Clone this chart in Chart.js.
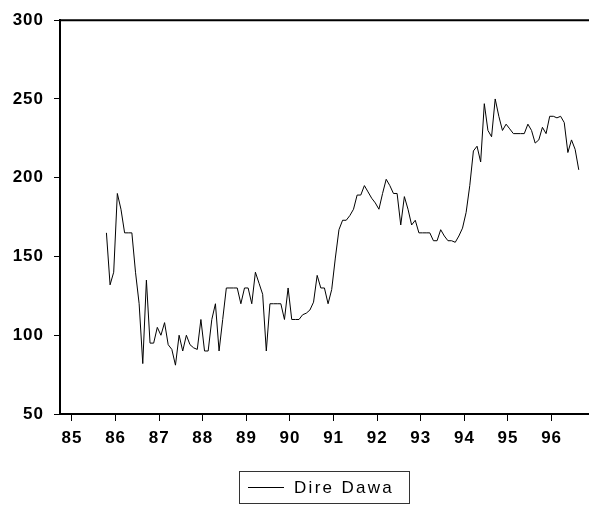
<!DOCTYPE html>
<html>
<head>
<meta charset="utf-8">
<script src="https://cdn.jsdelivr.net/npm/chart.js@4.4.1/dist/chart.umd.min.js"></script>
<style>
  html, body { margin: 0; padding: 0; background: #fff; }
  #wrap { width: 589px; height: 510px; position: relative; }
</style>
</head>
<body>
<div id="wrap"><canvas id="chart"></canvas></div>
<script>
// Monthly series, first observation late 1985
const seriesName = 'Dire Dawa';
const startYear = 85.79;
const direDawa = [
  165, 132, 140, 190, 180, 165, 165, 165, 140, 120,
  82, 135, 95, 95, 105, 100, 108, 94, 91, 81,
  100, 90, 100, 94, 92, 91, 110, 90, 90, 110,
  120, 90, 110, 130, 130, 130, 130, 120, 130, 130,
  120, 140, 133, 126, 90, 120, 120, 120, 120, 110,
  130, 110, 110, 110, 113, 114, 116, 121, 138, 130,
  130, 120, 129, 149, 167, 173, 173, 176, 180, 189,
  189, 195, 191, 187, 184, 180, 190, 199, 195, 190,
  190, 170, 188, 180, 170, 173, 165, 165, 165, 165,
  160, 160, 167, 163, 160, 160, 159, 163, 168, 178,
  195, 217, 220, 210, 247, 230, 226, 250, 239, 230,
  234, 231, 228, 228, 228, 228, 234, 230, 222, 224,
  232, 228, 239, 239, 238, 239, 235, 216, 224, 218,
  205
];
const yearTicks = [85, 86, 87, 88, 89, 90, 91, 92, 93, 94, 95, 96];
const valueTicks = [50, 100, 150, 200, 250, 300];

const points = direDawa.map((v, i) => ({ x: startYear + i / 12, y: v }));

const tickFont = { family: "'Liberation Sans', Arial, sans-serif", size: 17, weight: 'bold' };

// top frame line + boxed legend under the plot
const framePlugin = {
  id: 'frame',
  beforeDraw(chart) {
    chart.ctx.letterSpacing = '1px';
  },
  afterDraw(chart) {
    const ctx = chart.ctx;
    const a = chart.chartArea;
    ctx.save();
    ctx.strokeStyle = '#000';
    ctx.lineWidth = 2;
    ctx.beginPath();
    ctx.moveTo(a.left - 1, a.top);
    ctx.lineTo(a.right, a.top);
    ctx.stroke();

    // legend
    ctx.lineWidth = 1;
    ctx.strokeStyle = '#333';
    ctx.strokeRect(239.5, 471.5, 170, 32);
    ctx.strokeStyle = '#000';
    ctx.beginPath();
    ctx.moveTo(248, 487.5);
    ctx.lineTo(284, 487.5);
    ctx.stroke();
    ctx.fillStyle = '#000';
    ctx.font = "17px 'Liberation Sans', Arial, sans-serif";
    ctx.letterSpacing = '2.3px';
    ctx.textBaseline = 'middle';
    ctx.textAlign = 'left';
    ctx.fillText(seriesName, 294, 488);
    ctx.restore();
  }
};

new Chart(document.getElementById('chart'), {
  type: 'line',
  data: {
    datasets: [{
      label: seriesName,
      data: points,
      borderColor: '#000',
      borderWidth: 1,
      pointRadius: 0,
      tension: 0,
      fill: false
    }]
  },
  options: {
    responsive: true,
    maintainAspectRatio: false,
    animation: false,
    layout: { padding: { top: 17, right: 0, bottom: 0, left: 0 } },
    plugins: {
      legend: { display: false },
      tooltip: { enabled: false }
    },
    scales: {
      x: {
        type: 'linear',
        min: 84.725,
        max: 96.858,
        afterBuildTicks(scale) {
          scale.ticks = yearTicks.map(v => ({ value: v }));
        },
        afterFit(scale) { scale.height = 96; },
        grid: {
          drawOnChartArea: false,
          drawTicks: true,
          tickLength: 7,
          color: '#000',
          lineWidth: 1
        },
        border: { display: true, color: '#000', width: 2 },
        ticks: {
          font: tickFont,
          color: '#000',
          padding: 7,
          maxRotation: 0,
          autoSkip: false,
          callback: v => String(v)
        }
      },
      y: {
        min: 50,
        max: 300,
        afterBuildTicks(scale) {
          scale.ticks = valueTicks.map(v => ({ value: v }));
        },
        afterFit(scale) { scale.width = 60; },
        grid: {
          drawOnChartArea: false,
          drawTicks: true,
          tickLength: 6,
          color: '#000',
          lineWidth: 1
        },
        border: { display: true, color: '#000', width: 2 },
        ticks: {
          font: tickFont,
          color: '#000',
          padding: 10,
          callback: v => String(v)
        }
      }
    }
  },
  plugins: [framePlugin]
});
</script>
</body>
</html>
